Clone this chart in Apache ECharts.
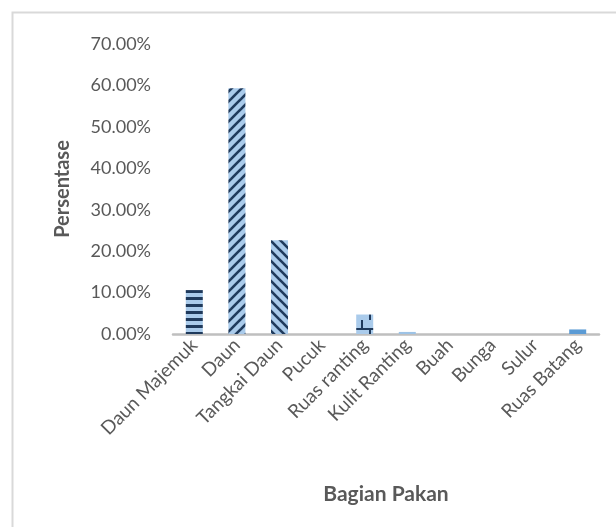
<!DOCTYPE html>
<html>
<head>
<meta charset="utf-8">
<script src="https://cdn.jsdelivr.net/npm/echarts@6/dist/echarts.min.js"></script>
<style>
  html, body { margin: 0; padding: 0; background: #fff; }
  #chart { width: 616px; height: 527px; }
</style>
</head>
<body>
<div id="chart"></div>
<script>
(function(){
  const categories = ['Daun Majemuk', 'Daun', 'Tangkai Daun', 'Pucuk', 'Ruas ranting', 'Kulit Ranting', 'Buah', 'Bunga', 'Sulur', 'Ruas Batang'];
  const values = [10.6, 59.3, 22.6, 0, 4.7, 0.5, 0, 0, 0, 1.1];
  const yTicks = { min: 0, max: 70, step: 10 };

  const LIGHT = '#aacbeb';
  const DARK = '#1f3a5c';
  const textColor = '#595959';
  const font = 'Lato, "Open Sans", sans-serif';

  function pattern(kind){
    const c = document.createElement('canvas');
    const g = c.getContext('2d');
    if (kind === 'hstripe') {
      c.width = 8; c.height = 7;
      g.fillStyle = LIGHT; g.fillRect(0, 0, 8, 7);
      g.fillStyle = DARK; g.fillRect(0, 3, 8, 3);
    } else if (kind === 'fdiag' || kind === 'bdiag') {
      const s = 10;
      c.width = s; c.height = s;
      g.fillStyle = LIGHT; g.fillRect(0, 0, s, s);
      g.strokeStyle = DARK; g.lineWidth = 2.6;
      const seg = (x1, y1, x2, y2) => { g.beginPath(); g.moveTo(x1, y1); g.lineTo(x2, y2); g.stroke(); };
      if (kind === 'fdiag') {
        seg(-1, s + 1, s + 1, -1);
        seg(-1, 1, 1, -1);
        seg(s - 1, s + 1, s + 1, s - 1);
      } else {
        seg(-1, -1, s + 1, s + 1);
        seg(s - 1, -1, s + 1, 1);
        seg(-1, s - 1, 1, s + 1);
      }
    } else if (kind === 'brick') {
      c.width = 16; c.height = 16;
      g.fillStyle = LIGHT; g.fillRect(0, 0, 16, 16);
      g.fillStyle = DARK;
      g.fillRect(0, 8, 16, 2);
      g.fillRect(9, 0, 2, 8);
      g.fillRect(1, 10, 2, 6);
    }
    return { image: c, repeat: 'repeat' };
  }

  // fill used by each category in the original chart
  const barFills = {
    'Daun Majemuk': pattern('hstripe'),
    'Daun': pattern('fdiag'),
    'Tangkai Daun': pattern('bdiag'),
    'Ruas ranting': pattern('brick'),
    'Kulit Ranting': '#9dc3e6',
    'Ruas Batang': '#5b9bd5'
  };

  const chart = echarts.init(document.getElementById('chart'), null, { renderer: 'canvas' });
  chart.setOption({
    animation: false,
    backgroundColor: '#fff',
    grid: { left: 173, right: 17, top: 44, bottom: 193 },
    graphic: [{
      type: 'rect',
      left: 10, top: 10,
      shape: { width: 640, height: 560 },
      style: { fill: 'none', stroke: '#d9d9d9', lineWidth: 2 },
      silent: true
    }],
    xAxis: {
      type: 'category',
      data: categories,
      name: 'Bagian Pakan',
      nameLocation: 'middle',
      nameGap: 150,
      nameTextStyle: { color: textColor, fontFamily: font, fontSize: 21, fontWeight: 'bold' },
      axisLine: { lineStyle: { color: '#bfbfbf', width: 2.5 } },
      axisTick: { show: false },
      axisLabel: {
        interval: 0, rotate: 45, margin: 8,
        color: textColor, fontFamily: font, fontSize: 19
      }
    },
    yAxis: {
      type: 'value',
      min: yTicks.min, max: yTicks.max, interval: yTicks.step,
      name: 'Persentase',
      nameLocation: 'middle',
      nameRotate: 90,
      nameGap: 100,
      nameTextStyle: { color: textColor, fontFamily: font, fontSize: 20, fontWeight: 'bold' },
      axisLine: { show: false },
      axisTick: { show: false },
      splitLine: { show: false },
      axisLabel: {
        margin: 22,
        color: textColor, fontFamily: font, fontSize: 18,
        formatter: v => v.toFixed(2) + '%'
      }
    },
    series: [{
      type: 'bar',
      barWidth: 17,
      data: values.map((v, i) => ({
        value: v,
        itemStyle: { color: barFills[categories[i]] || '#9dc3e6' }
      }))
    }]
  });
})();
</script>
</body>
</html>
